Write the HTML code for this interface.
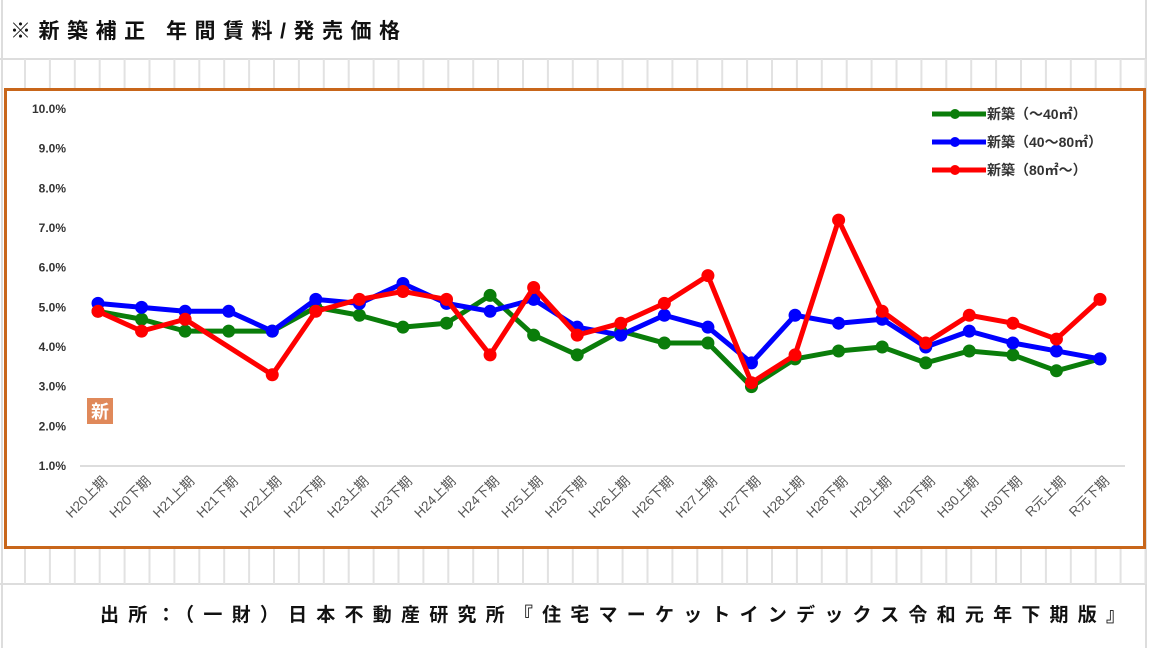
<!DOCTYPE html>
<html><head><meta charset="utf-8"><style>
html,body{margin:0;padding:0;background:#fff;}
svg{display:block;font-family:"Liberation Sans","Noto Sans CJK JP",sans-serif;}
</style></head><body>
<svg width="1152" height="648" viewBox="0 0 1152 648">
<g id="bg"></g>
<text x="10" y="38" font-size="21" font-weight="bold" fill="#111" textLength="390" lengthAdjust="spacing">※新築補正 年間賃料/発売価格</text>
<rect x="5.5" y="89.5" width="1139" height="458" fill="#fff" stroke="#c8661a" stroke-width="3"/>
<g id="axes"></g>
<g id="series"></g>
<g id="legend"></g>
<rect x="87" y="398" width="26" height="26" fill="#e0895a"/>
<text x="100" y="418" font-size="18" font-weight="bold" fill="#fff" text-anchor="middle">新</text>
<text x="100" y="621" font-size="19" font-weight="bold" fill="#111" textLength="1025" lengthAdjust="spacing">出所：（一財）日本不動産研究所『住宅マーケットインデックス令和元年下期版』</text>
</svg>
<script>
const categories=["H20上期","H20下期","H21上期","H21下期","H22上期","H22下期","H23上期","H23下期","H24上期","H24下期","H25上期","H25下期","H26上期","H26下期","H27上期","H27下期","H28上期","H28下期","H29上期","H29下期","H30上期","H30下期","R元上期","R元下期"];
const small=[4.9,4.7,4.4,4.4,4.4,5.0,4.8,4.5,4.6,5.3,4.3,3.8,4.4,4.1,4.1,3.0,3.7,3.9,4.0,3.6,3.9,3.8,3.4,3.7];
const medium=[5.1,5.0,4.9,4.9,4.4,5.2,5.1,5.6,5.1,4.9,5.2,4.5,4.3,4.8,4.5,3.6,4.8,4.6,4.7,4.0,4.4,4.1,3.9,3.7];
const large=[4.9,4.4,4.7,null,3.3,4.9,5.2,5.4,5.2,3.8,5.5,4.3,4.6,5.1,5.8,3.1,3.8,7.2,4.9,4.1,4.8,4.6,4.2,5.2];
const yTicks=[1,2,3,4,5,6,7,8,9,10];
const seriesNames=["新築（～40㎡）","新築（40～80㎡）","新築（80㎡～）"];
const NS="http://www.w3.org/2000/svg";
function mk(tag,attrs,parent){const e=document.createElementNS(NS,tag);for(const k in attrs)e.setAttribute(k,attrs[k]);parent.appendChild(e);return e;}
const x=i=>98+i*(1100-98)/(categories.length-1);
const y=v=>466-(v-1)*(466-109)/9;
const bg=document.getElementById('bg');
mk('line',{x1:2,y1:0,x2:2,y2:648,stroke:'#ddd','stroke-width':2},bg);
mk('line',{x1:1146,y1:0,x2:1146,y2:648,stroke:'#ddd','stroke-width':2},bg);
[59,584].forEach(yy=>mk('line',{x1:0,y1:yy,x2:1146,y2:yy,stroke:'#ddd','stroke-width':2},bg));
for(let gx=25;gx<1146;gx+=24.9){
  mk('line',{x1:gx,y1:59,x2:gx,y2:89,stroke:'#e2e2e2','stroke-width':2},bg);
  mk('line',{x1:gx,y1:548,x2:gx,y2:584,stroke:'#e2e2e2','stroke-width':2},bg);
}
const ax=document.getElementById('axes');
yTicks.forEach(t=>{
  const tx=mk('text',{x:66,y:y(t)+4,'font-size':12,'font-weight':'bold',fill:'#333','text-anchor':'end'},ax);
  tx.textContent=t.toFixed(1)+'%';
  
  
});
const base=mk('line',{x1:80,y1:466,x2:1125,y2:466,stroke:'#ddd','stroke-width':2},ax);


categories.forEach((c,i)=>{
  const tx=mk('text',{x:x(i)+10,y:482,'font-size':13.5,fill:'#555','text-anchor':'end',transform:`rotate(-45 ${x(i)+10} 482)`},ax);
  tx.textContent=c;
  
  
});
const sg=document.getElementById('series');
const all=[[small,'#0a7d0a','series-small'],[medium,'#0000ff','series-medium'],[large,'#ff0000','series-large']];
all.forEach(([data,col,name])=>{
  const pts=[];data.forEach((v,i)=>{if(v!=null)pts.push(x(i)+','+y(v));});
  const pl=mk('polyline',{points:pts.join(' '),fill:'none',stroke:col,'stroke-width':5,'stroke-linejoin':'round'},sg);
  
  
  data.forEach((v,i)=>{if(v==null)return;
    const c=mk('circle',{cx:x(i),cy:y(v),r:6.5,fill:col},sg);
    
    
  });
});
const lg=document.getElementById('legend');
const cols=['#0a7d0a','#0000ff','#ff0000'];
seriesNames.forEach((n,i)=>{
  const ly=114+i*28;
  const l=mk('line',{x1:932,y1:ly,x2:986,y2:ly,stroke:cols[i],'stroke-width':5},lg);
  
  
  const c=mk('circle',{cx:955,cy:ly,r:5,fill:cols[i]},lg);
  
  
  const t=mk('text',{x:987,y:ly+5,'font-size':14,'font-weight':'bold',fill:'#333'},lg);
  t.textContent=n;
  
  
});
</script>
</body></html>
